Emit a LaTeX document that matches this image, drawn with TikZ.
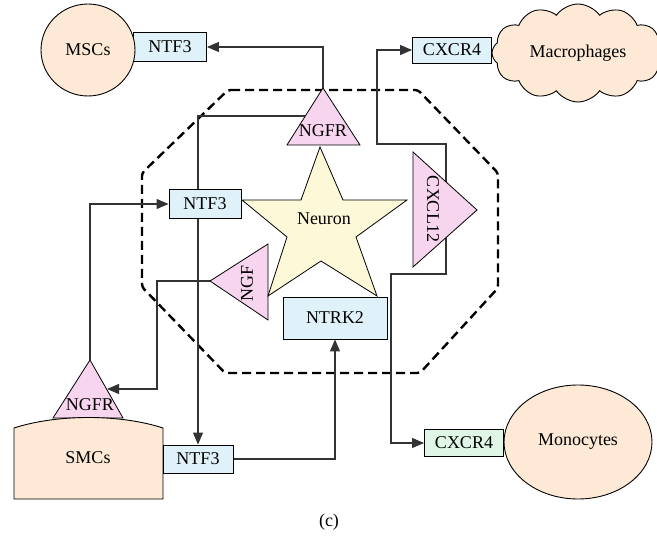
\documentclass[tikz,border=0pt]{standalone}
\usepackage{fontspec}
\setmainfont{Liberation Serif}
\usetikzlibrary{shapes.geometric,shapes.symbols,arrows.meta}
\definecolor{peach}{HTML}{FDE9D5}
\definecolor{boxblue}{HTML}{DFF1F9}
\definecolor{pinkfill}{HTML}{F8D5EE}
\definecolor{starfill}{HTML}{FDF8D8}
\definecolor{greenfill}{HTML}{DFF5E6}
\definecolor{linegray}{HTML}{333333}
\begin{document}
\begin{tikzpicture}[x=1pt,y=-1pt,
  font=\fontsize{18}{21}\selectfont,
  box/.style={draw=black, line width=0.9pt, fill=boxblue, minimum width=73pt, minimum height=29pt, inner sep=0pt},
  tri/.style={draw=black, line width=0.8pt, fill=pinkfill},
  cell/.style={draw=black, line width=0.9pt, fill=peach},
  link/.style={draw=linegray, line width=1.1pt, -{Triangle[length=12pt,width=10pt]}},
  lbl/.style={inner sep=0pt}]
\useasboundingbox (0,0) rectangle (657,545);

% dashed octagon
\draw[line width=2.4pt, dash pattern=on 9pt off 5pt, rounded corners=3pt]
  (228,90) -- (418,90) -- (498,173) -- (498,288) -- (420,373) -- (225,373) -- (142,287) -- (142,173) -- cycle;

% anchor coordinates
\coordinate (tnA) at (323,88);
\coordinate (tnL) at (287,145);
\coordinate (tnR) at (360,145);
\coordinate (tnS) at (305,116);
\coordinate (snA) at (90,360);
\coordinate (snL) at (53,418);
\coordinate (snR) at (123,418);
\coordinate (snS) at (107,389);
\coordinate (ngA) at (210,281);
\coordinate (ngT) at (268,244);
\coordinate (ngB) at (268,320);
\coordinate (cxT) at (413,152);
\coordinate (cxB) at (413,267);
\coordinate (cxA) at (477,210);
\coordinate (cxC) at (446,210);

% boxes
\node[box] (ntfTop) at (170,47) {NTF3};
\node[box, minimum width=72pt] (ntfMid) at (205,204) {NTF3};
\node[box, minimum width=70pt, minimum height=28pt] (ntfBot) at (198,459) {NTF3};
\node[box, minimum width=104pt, minimum height=42pt] (ntrk) at (335,318) {NTRK2};
\node[box, minimum width=79pt, minimum height=26pt] (cxTop) at (452,50) {CXCR4};
\node[box, fill=greenfill, minimum width=79pt, minimum height=27pt] (cxBot) at (464,443) {CXCR4};

% connectors
\draw[link] (tnA) |- (ntfTop.east);
\draw[link] (tnS) -| (ntfBot.north);
\draw[link] (snA) |- (ntfMid.west);
\draw[link] (ngA) -- (157,281) |- (snS);
\draw[link] (ntfBot.east) -| (ntrk.south);
\draw[link] (cxC) -- (446,144) -- (377,144) |- (cxTop.west);
\draw[link] (cxC) -- (446,274) -- (391,274) |- (cxBot.west);

% redraw boxes on top of lines
\node[box] at (ntfTop) {NTF3};
\node[box, minimum width=72pt] at (ntfMid) {NTF3};

% triangles
\path[tri] (tnA) -- (tnL) -- (tnR) -- cycle;
\node[lbl] (ngfrTop) at (323,131) {NGFR};
\path[tri] (snA) -- (snL) -- (snR) -- cycle;
\node[lbl] (ngfrSmc) at (90,405) {NGFR};
\path[tri] (ngA) -- (ngT) -- (ngB) -- cycle;
\node[lbl, rotate=90] (ngf) at (247,283) {NGF};
\path[tri] (cxT) -- (cxA) -- (cxB) -- cycle;
\node[lbl, rotate=-90] (cxcl) at (433,209) {CXCL12};

% neuron star
\path[draw=black, line width=0.8pt, fill=starfill]
  (320,147) -- (343,200) -- (407,200) -- (356,237) -- (377,296) -- (321,261)
  -- (268,296) -- (287,237) -- (242,200) -- (301,200) -- cycle;
\node[lbl] (neuron) at (324,219) {Neuron};

% cells
\node[cell, ellipse, minimum width=94pt, minimum height=92pt, inner sep=0pt] (msc) at (88,50) {MSCs};
\node[cell, cloud, cloud puffs=12, cloud puff arc=110, aspect=1.75, minimum width=172pt, minimum height=98pt, inner sep=0pt] (mac) at (578,53) {Macrophages};
\node[cell, ellipse, minimum width=148pt, minimum height=114pt, inner sep=0pt] (mono) at (578,442) {Monocytes};
\path[cell] (14,428) -- (14,499) -- (163,499) -- (163,428) .. controls (120,414) and (57,414) .. (14,428) -- cycle;
\node[lbl] (smc) at (88,458) {SMCs};
\node[box, minimum width=70pt, minimum height=28pt] at (ntfBot) {NTF3};

\node[lbl] (cap) at (329,522) {(c)};
\end{tikzpicture}
\end{document}
